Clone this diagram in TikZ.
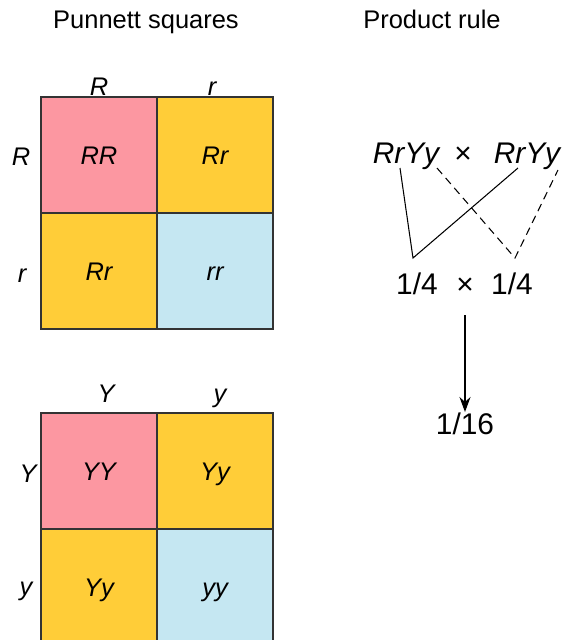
\documentclass[tikz,border=0pt]{standalone}
\usepackage{fontspec}
\setmainfont{Liberation Sans}
\usetikzlibrary{arrows.meta}
\definecolor{cellpink}{HTML}{FC97A1}
\definecolor{cellgold}{HTML}{FFCD38}
\definecolor{cellblue}{HTML}{C5E7F2}
\begin{document}
\begin{tikzpicture}[x=0.02cm,y=-0.02cm,every node/.style={inner sep=0pt},
    cell/.style={draw=black!80,line width=0.9pt,minimum size=2.32cm,text height=10.4pt,text depth=0pt,
        font=\fontsize{14.5}{17}\selectfont\itshape},
    allele/.style={anchor=base,font=\fontsize{14.5}{17}\selectfont\itshape},
    big/.style={anchor=base,font=\fontsize{17}{20}\selectfont}]
    \clip (0,0) rectangle (563,640);
    % titles
    \node[anchor=base,font=\fontsize{14.5}{17}\selectfont] (tp) at (146,28) {Punnett squares};
    \node[anchor=base,font=\fontsize{14.5}{17}\selectfont] (tr) at (432,28) {Product rule};
    % Rr x Rr
    \node[cell,fill=cellpink] (rRR) at (99,155) {RR};
    \node[cell,fill=cellgold] (rRr) at (215,155) {Rr};
    \node[cell,fill=cellgold] (rrR) at (99,271) {Rr};
    \node[cell,fill=cellblue] (rrr) at (215,271) {rr};
    \node[allele] (cR) at (99,95) {R};
    \node[allele] (cr) at (212,95) {r};
    \node[allele] (wR) at (21,165) {R};
    \node[allele] (wr) at (22,282) {r};
    % Yy x Yy
    \node[cell,fill=cellpink] (yYY) at (99,471) {YY};
    \node[cell,fill=cellgold] (yYy) at (215,471) {Yy};
    \node[cell,fill=cellgold] (yyY) at (99,587) {Yy};
    \node[cell,fill=cellblue] (yyy) at (215,587) {yy};
    \node[allele] (cY) at (106,402) {Y};
    \node[allele] (cy) at (220,402) {y};
    \node[allele] (wY) at (28,482) {Y};
    \node[allele] (wy) at (26,595) {y};
    % product rule
    \node[big,font=\fontsize{17}{20}\selectfont\itshape] (g1) at (406,163) {RrYy};
    \node[big] (x1) at (463,163) {×};
    \node[big,font=\fontsize{17}{20}\selectfont\itshape] (g2) at (527,163) {RrYy};
    \node[big] (p1) at (417,294) {1/4};
    \node[big] (x2) at (465,294) {×};
    \node[big] (p2) at (512,294) {1/4};
    \node[big] (res) at (465,434) {1/16};
    \coordinate (s1) at (400,168);
    \coordinate (s2) at (413,258);
    \coordinate (s3) at (518,168);
    \coordinate (d1) at (437,168);
    \coordinate (d2) at (515,258);
    \coordinate (d3) at (558,170);
    \coordinate (a1) at (465,315);
    \draw[line width=0.6pt] (s1)--(s2)--(s3);
    \draw[line width=0.6pt,dash pattern=on 4.5pt off 3pt] (d1)--(d2)--(d3);
    \draw[line width=0.7pt,-{Stealth[length=0.3cm,width=0.22cm]}] (a1)--(res.north) ;
\end{tikzpicture}
\end{document}
